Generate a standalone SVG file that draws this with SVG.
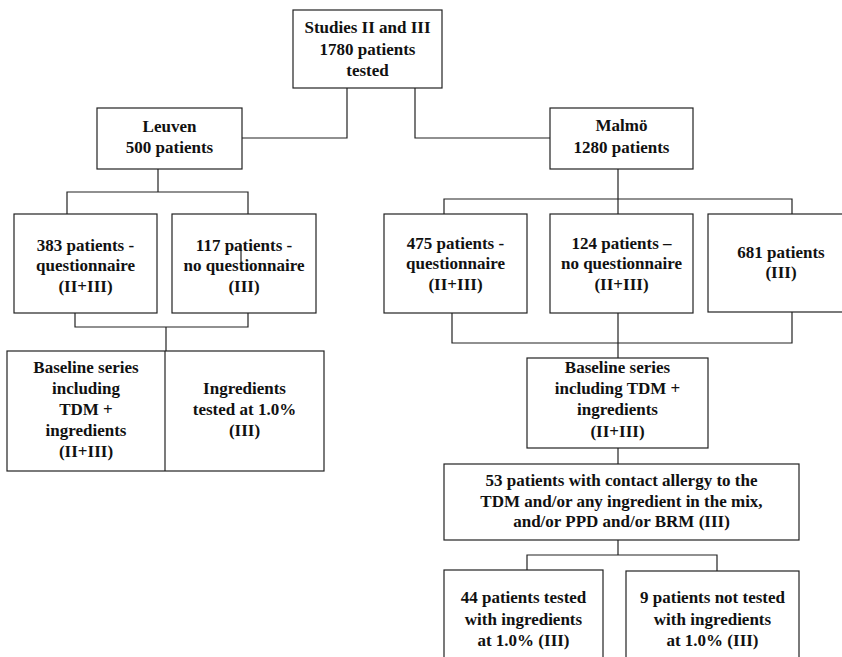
<svg xmlns="http://www.w3.org/2000/svg" width="842" height="657" viewBox="0 0 842 657">
<style>
.box{fill:#fff;stroke:#222;stroke-width:1.2}
.ln{fill:none;stroke:#222;stroke-width:1.2}
text{font-family:"Liberation Serif","Times New Roman",serif;font-size:17px;font-weight:bold;fill:#111;text-anchor:middle}
</style>
<rect width="842" height="657" fill="#fff"/>
<g id="connectors">
<path class="ln" d="M347 88V138H242M415 88V138H550"/>
<path class="ln" d="M158 169V192M67 214V192H248V214"/>
<path class="ln" d="M75 313V327H248V313M166 327V351"/>
<path class="ln" d="M618 169V214M444 214V199H792V214"/>
<path class="ln" d="M452 313V343H792V312M618 313V358"/>
<path class="ln" d="M618 448V464"/>
<path class="ln" d="M618 540V555M527 570V555H717V571"/>
</g>
<g id="top"><rect class="box" x="293" y="10" width="149" height="78"/>
<text x="367.5" y="33">Studies II and III</text><text x="367.5" y="55">1780 patients</text><text x="367.5" y="76">tested</text></g>
<g id="leuven"><rect class="box" x="97" y="108" width="145" height="61"/>
<text x="169.5" y="132">Leuven</text><text x="169.5" y="153">500 patients</text></g>
<g id="malmo"><rect class="box" x="550" y="108" width="143" height="61"/>
<text x="621.5" y="131">Malmö</text><text x="621.5" y="153">1280 patients</text></g>
<g id="l383"><rect class="box" x="14" y="214" width="143" height="99"/>
<text x="85.5" y="251">383 patients -</text><text x="85.5" y="271">questionnaire</text><text x="85.5" y="292">(II+III)</text></g>
<g id="l117"><rect class="box" x="172" y="214" width="144" height="99"/>
<text x="244" y="251">117 patients -</text><text x="244" y="271">no questionnaire</text><text x="244" y="292">(III)</text>
<path class="ln" d="M241 245V263"/></g>
<g id="lbase"><rect class="box" x="7" y="351" width="317" height="120"/>
<path class="ln" d="M165 351V471"/>
<text x="86" y="373">Baseline series</text><text x="86" y="394">including</text><text x="86" y="415">TDM +</text><text x="86" y="436">ingredients</text><text x="86" y="457">(II+III)</text>
<text x="244.5" y="394">Ingredients</text><text x="244.5" y="415">tested at 1.0%</text><text x="244.5" y="436">(III)</text></g>
<g id="m475"><rect class="box" x="384" y="214" width="143" height="99"/>
<text x="455.5" y="249">475 patients -</text><text x="455.5" y="269">questionnaire</text><text x="455.5" y="290">(II+III)</text></g>
<g id="m124"><rect class="box" x="550" y="214" width="143" height="99"/>
<text x="621.5" y="249">124 patients –</text><text x="621.5" y="269">no questionnaire</text><text x="621.5" y="290">(II+III)</text></g>
<g id="m681"><rect class="box" x="708" y="214" width="140" height="98"/>
<text x="781" y="258">681 patients</text><text x="781" y="278">(III)</text></g>
<g id="mbase"><rect class="box" x="527" y="358" width="181" height="90"/>
<text x="617.5" y="373">Baseline series</text><text x="617.5" y="394">including TDM +</text><text x="617.5" y="415">ingredients</text><text x="617.5" y="437">(II+III)</text></g>
<g id="m53"><rect class="box" x="444" y="464" width="355" height="76"/>
<text x="621.5" y="486">53 patients with contact allergy to the</text><text x="621.5" y="507">TDM and/or any ingredient in the mix,</text><text x="621.5" y="527">and/or PPD and/or BRM (III)</text></g>
<g id="m44"><rect class="box" x="444" y="570" width="159" height="95"/>
<text x="523.5" y="603">44 patients tested</text><text x="523.5" y="625">with ingredients</text><text x="523.5" y="646">at 1.0% (III)</text></g>
<g id="m9"><rect class="box" x="626" y="571" width="173" height="94"/>
<text x="712.5" y="603">9 patients not tested</text><text x="712.5" y="625">with ingredients</text><text x="712.5" y="646">at 1.0% (III)</text></g>
</svg>
